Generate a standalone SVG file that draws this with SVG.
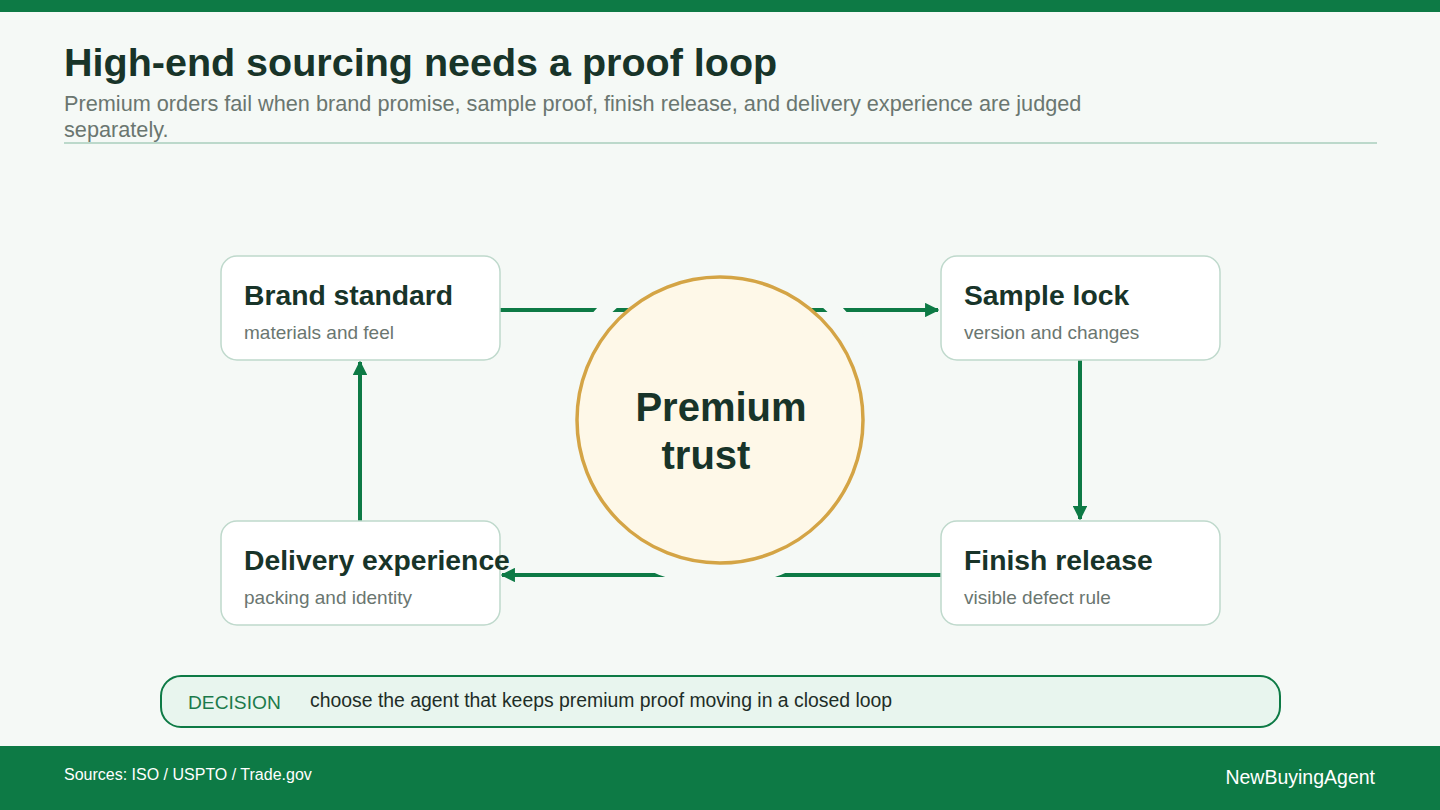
<svg xmlns="http://www.w3.org/2000/svg" width="1440" height="810" viewBox="0 0 1440 810">
<defs>
<style>
.t{font-family:"Liberation Sans",Arial,sans-serif}
.h{font-weight:bold;fill:#183429}
.nb{fill:#ffffff;stroke:#bfd9cc;stroke-width:1.5}
.nt{font-size:28.3px;font-weight:bold;fill:#183429}
.ns{font-size:19px;fill:#6a7670}
.c{stroke:#0d7a45;stroke-width:4;fill:none}
</style>
<marker id="ah" viewBox="0 0 10 10" refX="9" refY="5" markerWidth="3.6" markerHeight="3.6" orient="auto" markerUnits="strokeWidth">
<path d="M0,0 L10,5 L0,10 z" fill="#0d7a45"/>
</marker>
</defs>
<rect x="0" y="0" width="1440" height="810" fill="#f5f9f6"/>
<rect x="0" y="0" width="1440" height="12" fill="#0d7a45"/>
<text class="t h" x="64" y="76" font-size="39.5">High-end sourcing needs a proof loop</text>
<text class="t" x="64" y="111" font-size="21.7" fill="#6a7670">Premium orders fail when brand promise, sample proof, finish release, and delivery experience are judged</text>
<text class="t" x="64" y="137" font-size="21.7" fill="#6a7670">separately.</text>
<line x1="64" y1="143" x2="1377" y2="143" stroke="#bcd9cb" stroke-width="2"/>

<g id="connectors">
<line class="c" x1="500" y1="310" x2="938" y2="310" marker-end="url(#ah)"/>
<line class="c" x1="1080" y1="360" x2="1080" y2="519" marker-end="url(#ah)"/>
<line class="c" x1="941" y1="575" x2="502" y2="575" marker-end="url(#ah)"/>
<line class="c" x1="360" y1="521" x2="360" y2="362" marker-end="url(#ah)"/>
</g>

<g id="hub">
<circle cx="720" cy="420" r="159.5" fill="none" stroke="#f5f9f6" stroke-width="14"/>
<circle cx="720" cy="420" r="143" fill="#fef8e8" stroke="#d4a445" stroke-width="3.5"/>
<text class="t h" x="721" y="421" font-size="40" text-anchor="middle">Premium</text>
<text class="t h" x="706" y="469" font-size="40" text-anchor="middle">trust</text>
</g>

<g id="brand-standard">
<rect class="nb" x="221" y="256" width="279" height="104" rx="16"/>
<text class="t nt" x="244" y="305">Brand standard</text>
<text class="t ns" x="244" y="339">materials and feel</text>
</g>
<g id="sample-lock">
<rect class="nb" x="941" y="256" width="279" height="104" rx="16"/>
<text class="t nt" x="964" y="305">Sample lock</text>
<text class="t ns" x="964" y="339">version and changes</text>
</g>
<g id="delivery-experience">
<rect class="nb" x="221" y="521" width="279" height="104" rx="16"/>
<text class="t nt" x="244" y="570">Delivery experience</text>
<text class="t ns" x="244" y="604">packing and identity</text>
</g>
<g id="finish-release">
<rect class="nb" x="941" y="521" width="279" height="104" rx="16"/>
<text class="t nt" x="964" y="570">Finish release</text>
<text class="t ns" x="964" y="604">visible defect rule</text>
</g>

<g id="decision">
<rect x="161" y="676" width="1119" height="51" rx="20" fill="#e8f5ee" stroke="#0d7a45" stroke-width="2"/>
<text class="t" x="188" y="709" font-size="19.2" fill="#1b7a4b">DECISION</text>
<text class="t" x="310" y="707" font-size="19.4" fill="#1e2d27">choose the agent that keeps premium proof moving in a closed loop</text>
</g>

<rect x="0" y="746" width="1440" height="64" fill="#0d7a45"/>
<text class="t" x="64" y="780" font-size="16" fill="#ffffff">Sources: ISO / USPTO / Trade.gov</text>
<text class="t" x="1375" y="784" font-size="19.5" fill="#ffffff" text-anchor="end">NewBuyingAgent</text>
</svg>
